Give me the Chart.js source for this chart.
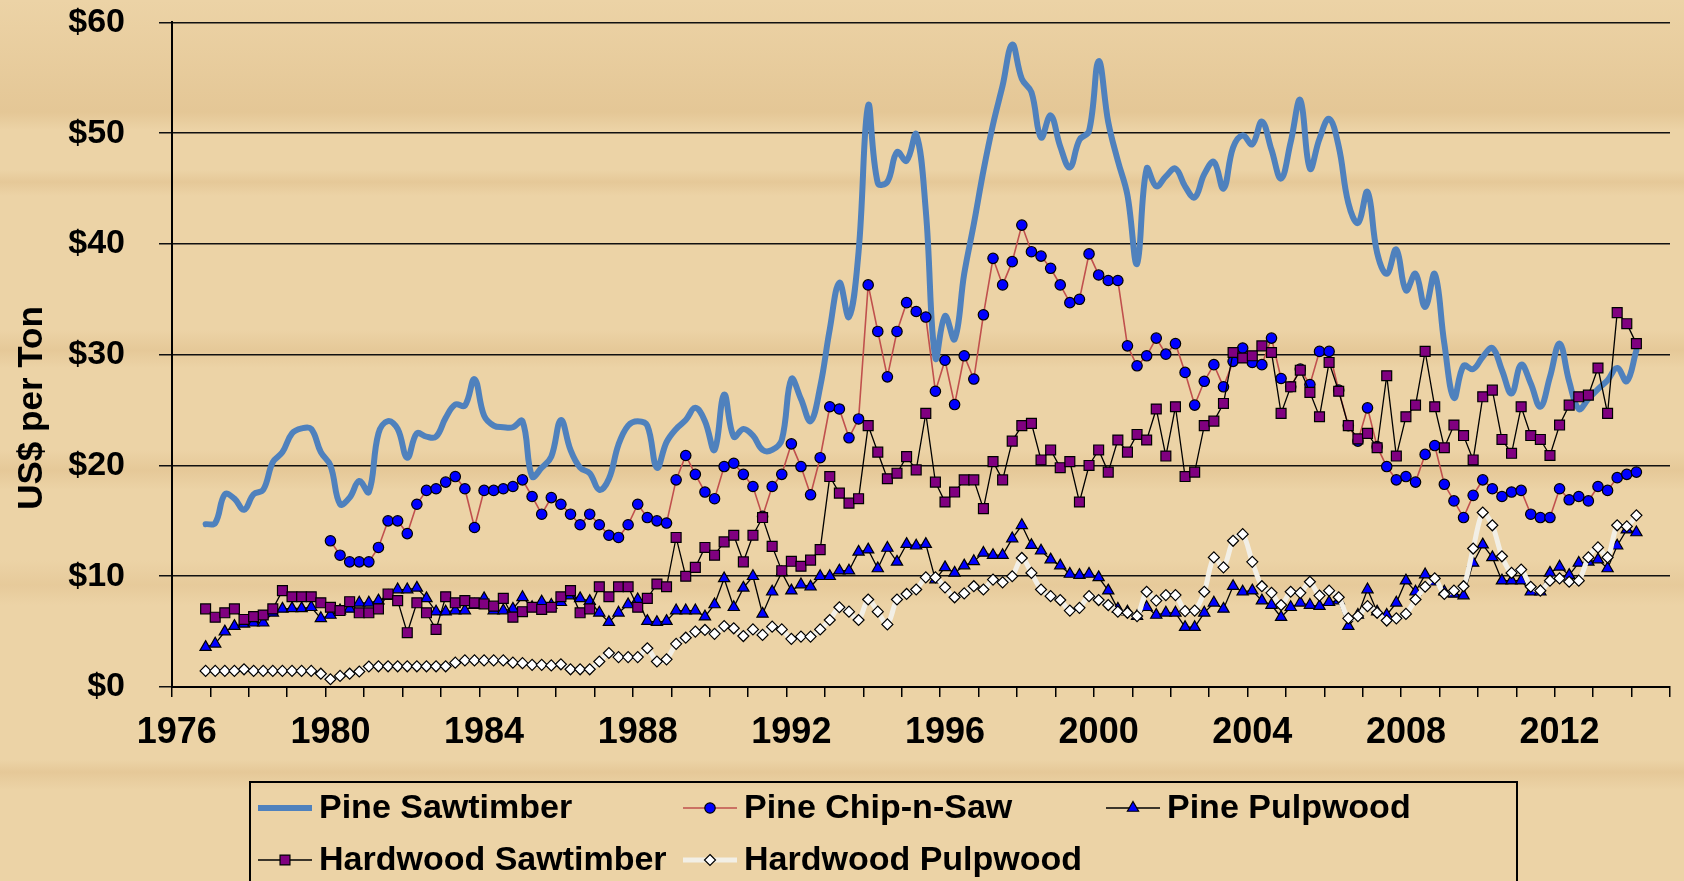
<!DOCTYPE html>
<html>
<head>
<meta charset="utf-8">
<title>Stumpage prices</title>
<script src="https://cdn.jsdelivr.net/npm/chart.js@4.4.0/dist/chart.umd.min.js"></script>
<style>
html, body { margin: 0; padding: 0; }
body {
  width: 1684px; height: 881px; overflow: hidden;
  background-color: #ecd3a6;
  background-image:
    linear-gradient(180deg,
      rgba(255,240,210,0) 0px, rgba(214,176,120,0.35) 112px, rgba(255,240,210,0) 130px,
      rgba(255,240,210,0) 170px, rgba(214,176,120,0.30) 182px, rgba(255,240,210,0) 196px,
      rgba(255,240,210,0) 330px, rgba(214,176,120,0.30) 350px, rgba(255,240,210,0) 368px,
      rgba(255,240,210,0) 450px, rgba(214,176,120,0.30) 470px, rgba(255,240,210,0) 490px,
      rgba(255,240,210,0) 560px, rgba(214,176,120,0.25) 585px, rgba(255,240,210,0) 605px,
      rgba(255,240,210,0) 760px, rgba(214,176,120,0.30) 772px, rgba(255,240,210,0) 790px);
}
#wrap { position: relative; width: 1684px; height: 881px; overflow: hidden; }
#chart { position: absolute; left: 0; top: -32px; }
</style>
</head>
<body>
<div id="wrap"><canvas id="chart" width="1684" height="913"></canvas></div>
<script>
// quarterly prices ($/ton). quarter index 0 = 1976 Q1
const yearLabels = ["1976","1980","1984","1988","1992","1996","2000","2004","2008","2012"];
const seriesStart = 3;   // 1976 Q4
const chipStart = 16;    // 1980 Q1

const pineSawtimber = [
  14.7,14.8,17.4,17.0,16.0,17.4,17.8,20.3,21.2,22.9,23.35,23.3,21.2,20.0,16.5,17.1,18.6,17.6,
  22.9,24.0,23.3,20.7,22.9,22.6,22.6,24.3,25.5,25.4,27.8,24.5,23.6,23.45,23.45,24.0,19.0,19.8,20.8,
  24.1,21.4,19.8,19.3,17.8,18.8,21.9,23.6,24.0,23.6,19.8,22.1,23.3,24.1,25.2,24.0,21.4,26.4,22.6,23.3,
  22.7,21.4,21.4,22.3,27.8,26.0,24.0,27.1,32.3,36.5,33.4,39.3,52.5,45.5,45.6,48.3,47.5,49.9,43.0,29.7,
  33.5,31.4,37.3,41.8,46.6,50.8,54.3,58.0,54.9,53.7,49.6,51.6,48.8,46.9,49.4,50.2,56.5,51.0,47.5,44.4,
  38.2,46.8,45.2,46.1,46.8,45.2,44.2,46.3,47.4,45.0,48.7,49.8,49.0,51.05,48.5,45.9,49.2,53.0,46.8,49.5,
  51.3,48.8,43.7,41.9,44.7,39.2,37.3,39.5,35.8,37.3,34.3,37.3,31.0,26.1,29.0,28.7,29.8,30.6,28.6,26.5,
  29.1,27.4,25.3,28.0,31.0,27.6,25.1,26.0,26.9,27.7,28.8,27.6,30.4
];

const pineChipNSaw = [
  13.2,11.9,11.3,11.3,11.3,12.6,15.0,15.0,13.85,16.5,17.75,17.9,18.5,19.0,17.9,14.4,17.75,17.75,17.9,18.1,18.7,17.2,15.6,17.1,
  16.5,15.6,14.65,15.6,14.65,13.7,13.5,14.65,16.5,15.3,15.0,14.8,18.7,20.9,19.2,17.6,17.0,19.9,20.2,19.2,
  18.1,15.4,18.1,19.2,21.95,19.9,17.35,20.7,25.3,25.1,22.5,24.2,36.3,32.1,28.0,32.1,34.7,33.9,33.4,26.7,
  29.5,25.5,29.9,27.8,33.6,38.7,36.3,38.4,41.7,39.3,38.9,37.8,36.3,34.7,35.0,39.1,37.2,36.7,36.7,30.8,
  29.0,29.9,31.5,30.05,31.0,28.4,25.45,27.6,29.1,27.1,29.4,30.6,29.3,29.1,31.5,27.85,27.1,28.7,27.3,30.3,
  30.3,26.8,23.6,22.2,25.2,21.7,19.9,18.7,19.0,18.5,21.0,21.8,18.3,16.8,15.3,17.3,18.7,17.9,17.2,17.6,
  17.75,15.6,15.3,15.3,17.9,16.9,17.2,16.8,18.1,17.75,18.9,19.2,19.4
];

const pinePulpwood = [
  3.6,3.9,5.0,5.5,5.7,5.8,5.8,6.7,7.05,7.1,7.1,7.2,6.2,6.5,6.9,7.05,7.6,7.6,
  7.8,8.2,8.8,8.8,8.95,8.0,6.8,6.8,6.9,6.9,7.4,8.0,6.9,6.9,7.05,8.1,7.2,7.7,7.4,
  7.65,8.25,8.0,7.75,6.7,5.85,6.7,7.45,7.9,5.95,5.85,5.95,6.9,6.9,6.9,6.35,7.45,9.8,7.2,8.95,
  10.0,6.6,8.6,10.35,8.7,9.25,9.05,10.0,10.0,10.5,10.5,12.2,12.4,10.7,12.55,11.3,12.9,12.75,12.9,9.7,
  10.8,10.3,10.96,11.35,12.1,11.9,11.9,13.4,14.6,12.8,12.3,11.5,10.96,10.2,10.1,10.2,9.9,8.7,7.05,6.8,
  6.4,7.2,6.5,6.7,6.7,5.4,5.4,6.7,7.6,7.05,9.1,8.6,8.7,7.8,7.4,6.3,7.2,7.6,7.4,7.3,
  7.65,7.8,5.5,6.5,8.8,6.8,6.5,7.6,9.6,8.6,10.15,9.5,8.6,8.4,8.25,11.2,12.85,11.7,9.6,9.6,
  9.6,8.6,8.6,10.3,10.85,10.1,11.2,11.3,11.5,10.7,12.75,14.2,13.95
];

const hardwoodSawtimber = [
  7.05,6.3,6.7,7.05,6.1,6.35,6.5,7.05,8.7,8.15,8.15,8.15,7.6,7.2,6.9,7.7,6.7,6.7,
  7.05,8.4,7.8,4.9,7.6,6.7,5.2,8.15,7.6,7.8,7.6,7.5,7.3,8.0,6.3,6.8,7.2,7.0,7.2,
  8.15,8.7,6.7,7.05,9.05,8.15,9.05,9.05,7.2,8.0,9.3,9.05,13.5,10.0,10.8,12.6,11.9,13.1,13.7,11.3,
  13.7,15.3,12.7,10.5,11.35,10.9,11.45,12.4,19.0,17.5,16.6,17.0,23.6,21.2,18.8,19.3,20.8,19.6,24.7,18.5,
  16.7,17.6,18.7,18.7,16.1,20.35,18.7,22.2,23.6,23.8,20.5,21.4,19.8,20.35,16.7,20.0,21.4,19.4,22.3,21.2,
  22.8,22.3,25.1,20.85,25.3,19.0,19.4,23.6,24.0,25.6,30.2,29.7,29.9,30.8,30.2,24.7,27.1,28.6,26.6,24.4,
  29.3,26.7,23.6,22.4,22.9,21.6,28.1,20.85,24.4,25.45,30.3,25.3,21.6,23.65,22.7,20.5,26.2,26.8,22.35,21.1,
  25.3,22.7,22.35,20.9,23.65,25.45,26.2,26.35,28.8,24.7,33.8,32.8,31.0
];

const hardwoodPulpwood = [
  1.45,1.45,1.45,1.45,1.6,1.45,1.45,1.45,1.45,1.45,1.45,1.45,1.2,0.7,1.0,1.2,1.4,1.85,
  1.87,1.87,1.87,1.87,1.87,1.87,1.87,1.87,2.2,2.4,2.4,2.4,2.4,2.4,2.2,2.15,2.0,2.0,1.95,
  2.05,1.6,1.6,1.6,2.3,3.07,2.7,2.7,2.7,3.5,2.3,2.5,3.9,4.45,5.0,5.15,4.8,5.5,5.3,4.6,
  5.2,4.7,5.45,5.2,4.35,4.55,4.55,5.2,6.05,7.2,6.8,6.05,7.9,6.8,5.65,7.9,8.4,8.8,9.9,9.9,
  9.0,8.1,8.45,9.1,8.8,9.7,9.45,10.0,11.65,10.3,8.8,8.2,7.85,6.9,7.15,8.2,7.85,7.4,6.8,6.7,
  6.4,8.6,7.8,8.3,8.3,6.85,6.9,8.6,11.7,10.8,13.2,13.8,11.3,9.1,8.5,7.4,8.6,8.5,9.5,8.25,
  8.7,8.1,6.2,6.4,7.3,6.7,6.0,6.2,6.6,7.9,9.05,9.8,8.4,8.7,9.1,12.5,15.75,14.6,11.8,10.3,
  10.6,9.05,8.7,9.6,9.8,9.5,9.6,11.7,12.6,11.7,14.6,14.5,15.5
];

// points sit in the middle of their quarter
function toPoints(arr, start){
  return arr.map((v, k) => ({ x: start + k + 0.5, y: v }));
}

const FONT = '"Liberation Sans", Arial, Helvetica, sans-serif';
const SHIFT = 32; // canvas is moved up by this much

// boxed legend under the plot + axis title, drawn in page coordinates
const boxLegend = {
  id: 'boxLegend',
  afterDraw(chart){
    const ctx = chart.ctx;
    const ds = chart.data.datasets;
    const slots = [
      { d: 0, x: 258, y: 808 }, { d: 1, x: 683, y: 808 }, { d: 2, x: 1106, y: 808 },
      { d: 3, x: 258, y: 860 }, { d: 4, x: 683, y: 860 }
    ];
    ctx.save();
    ctx.translate(0, SHIFT);
    ctx.strokeStyle = '#000'; ctx.lineWidth = 2;
    ctx.strokeRect(250, 782, 1267, 130);
    slots.forEach(s => {
      const d = ds[s.d];
      ctx.strokeStyle = d.borderColor; ctx.lineWidth = d.borderWidth;
      ctx.beginPath(); ctx.moveTo(s.x, s.y); ctx.lineTo(s.x + 54, s.y); ctx.stroke();
      if(d.pointRadius > 0) drawMarker(ctx, d, s.x + 27, s.y);
      ctx.fillStyle = '#000';
      ctx.font = 'bold 34px ' + FONT;
      ctx.textBaseline = 'middle';
      ctx.fillText(d.label, s.x + 61, s.y + 1);
    });
    // y axis title
    ctx.translate(32, 408);
    ctx.rotate(-Math.PI / 2);
    ctx.font = 'bold 35px ' + FONT;
    ctx.textAlign = 'center';
    ctx.textBaseline = 'middle';
    ctx.fillStyle = '#000';
    ctx.fillText('US$ per Ton', 0, 0);
    ctx.restore();
  }
};

function drawMarker(ctx, d, x, y){
  const r = d.pointRadius;
  ctx.fillStyle = d.pointBackgroundColor;
  ctx.strokeStyle = d.pointBorderColor;
  ctx.lineWidth = d.pointBorderWidth;
  ctx.beginPath();
  if(d.pointStyle === 'circle') ctx.arc(x, y, r, 0, Math.PI*2);
  else if(d.pointStyle === 'rect'){ const h = r*Math.SQRT1_2; ctx.rect(x-h, y-h, 2*h, 2*h); }
  else if(d.pointStyle === 'triangle'){
    ctx.moveTo(x, y - r); ctx.lineTo(x + r*0.866, y + r*0.5); ctx.lineTo(x - r*0.866, y + r*0.5); ctx.closePath();
  } else { ctx.moveTo(x, y-r); ctx.lineTo(x+r, y); ctx.lineTo(x, y+r); ctx.lineTo(x-r, y); ctx.closePath(); }
  ctx.fill(); ctx.stroke();
}

new Chart(document.getElementById('chart'), {
  type: 'line',
  data: {
    datasets: [
      { label: 'Pine Sawtimber', data: toPoints(pineSawtimber, seriesStart), order: 4,
        borderColor: '#4f81bd', borderWidth: 6, tension: 0.4, pointRadius: 0,
        borderCapStyle: 'round', borderJoinStyle: 'round' },
      { label: 'Pine Chip-n-Saw', data: toPoints(pineChipNSaw, chipStart), order: 3,
        borderColor: '#c0504d', borderWidth: 1.6, tension: 0,
        pointStyle: 'circle', pointRadius: 5.2, pointBackgroundColor: '#0000ff',
        pointBorderColor: '#000', pointBorderWidth: 1.2 },
      { label: 'Pine Pulpwood', data: toPoints(pinePulpwood, seriesStart), order: 2,
        borderColor: '#000', borderWidth: 1.3, tension: 0,
        pointStyle: 'triangle', pointRadius: 6.5, pointBackgroundColor: '#0000ff',
        pointBorderColor: '#000', pointBorderWidth: 1.2 },
      { label: 'Hardwood Sawtimber', data: toPoints(hardwoodSawtimber, seriesStart), order: 1,
        borderColor: '#000', borderWidth: 1.3, tension: 0,
        pointStyle: 'rect', pointRadius: 7, pointBackgroundColor: '#800080',
        pointBorderColor: '#000', pointBorderWidth: 1.2 },
      { label: 'Hardwood Pulpwood', data: toPoints(hardwoodPulpwood, seriesStart), order: 0,
        borderColor: '#f2efe6', borderWidth: 5, tension: 0.3,
        pointStyle: 'rectRot', pointRadius: 5.5, pointBackgroundColor: '#ffffff',
        pointBorderColor: '#000', pointBorderWidth: 1.2 }
    ]
  },
  options: {
    responsive: false,
    animation: false,
    events: [],
    layout: { padding: { top: 22, right: 4, left: 0, bottom: 0 } },
    plugins: { legend: { display: false }, tooltip: { enabled: false } },
    scales: {
      x: {
        type: 'linear', min: 0, max: 156,
        afterFit(s){ s.height = 194; },
        afterBuildTicks(s){ s.ticks = []; for(let v = 0; v <= 156; v += 4) s.ticks.push({ value: v }); },
        border: { display: true, color: '#000', width: 2 },
        grid: { drawOnChartArea: false, drawTicks: true, tickLength: 10, color: '#000', lineWidth: 1.5 },
        ticks: {
          autoSkip: false, maxRotation: 0, padding: 14, labelOffset: 4.8, color: '#000',
          font: { family: FONT, size: 36, weight: 'bold' },
          callback: v => (v % 16 === 0 ? (yearLabels[v / 16] || '') : '')
        }
      },
      y: {
        min: 0, max: 60,
        afterFit(s){ s.width = 172; },
        border: { display: true, color: '#000', width: 2 },
        grid: { color: '#111', lineWidth: 1.5, tickLength: 13, drawTicks: true },
        ticks: {
          stepSize: 10, padding: 34, color: '#000',
          font: { family: FONT, size: 34, weight: 'bold' },
          callback: v => '$' + v
        }
      }
    }
  },
  plugins: [boxLegend]
});
</script>
</body>
</html>
